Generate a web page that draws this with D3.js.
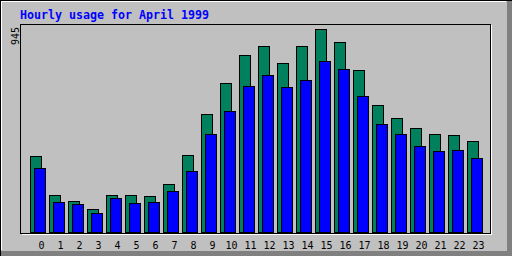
<!DOCTYPE html>
<html>
<head>
<meta charset="utf-8">
<script src="https://cdn.jsdelivr.net/npm/d3@7/dist/d3.min.js"></script>
<style>
  body { margin: 0; background: #c0c0c0; }
  svg { display: block; }
  text { font-family: "DejaVu Sans Mono", monospace; }
</style>
</head>
<body>
<div id="chart"></div>
<script>
// hourly usage, values
var hours = d3.range(24).map(String);
var hits  = [354, 172, 144, 107, 172, 172, 168, 223, 358, 549, 694, 824,
             866, 787, 866, 945, 884, 754, 591, 531, 484, 456, 452, 424];
var files = [298, 140, 130,  88, 158, 135, 140, 191, 284, 456, 563, 680,
             731, 675, 708, 796, 759, 633, 503, 456, 400, 377, 382, 344];
var maxVal = 945;
var title = "Hourly usage for April 1999";

var W = 512, H = 256;

var svg = d3.select("#chart").append("svg")
    .attr("width", W)
    .attr("height", H)
    .attr("shape-rendering", "crispEdges");

// background + outer 3d frame
svg.append("rect").attr("width", W).attr("height", H).attr("fill", "#c0c0c0");
svg.append("rect").attr("x", 0).attr("y", 0).attr("width", W).attr("height", 1).attr("fill", "#000");
svg.append("rect").attr("x", 0).attr("y", 0).attr("width", 1).attr("height", H).attr("fill", "#000");
svg.append("rect").attr("x", 1).attr("y", 1).attr("width", W - 7).attr("height", 1).attr("fill", "#fff");
svg.append("rect").attr("x", 1).attr("y", 1).attr("width", 1).attr("height", H - 7).attr("fill", "#fff");
svg.append("rect").attr("x", W - 5).attr("y", 1).attr("width", 5).attr("height", H - 1).attr("fill", "#808080");
svg.append("rect").attr("x", 1).attr("y", H - 5).attr("width", W - 1).attr("height", 5).attr("fill", "#808080");

// title
svg.append("text")
    .attr("x", 20)
    .attr("y", 19)
    .attr("fill", "#0000ff")
    .style("font-size", "12px")
    .style("font-weight", "bold")
    .attr("textLength", 189)
    .attr("lengthAdjust", "spacingAndGlyphs")
    .text(title);

// inner frame (sunken)
svg.append("path")
    .attr("d", "M21.5,234.5H491.5V25")
    .attr("fill", "none").attr("stroke", "#fff");
svg.append("rect")
    .attr("x", 20.5).attr("y", 24.5)
    .attr("width", 470).attr("height", 209)
    .attr("fill", "none").attr("stroke", "#000");

// scales
var x = d3.scaleBand()
    .domain(hours)
    .range([30, 30 + 19 * 24]);

var y = d3.scaleLinear()
    .domain([0, maxVal])
    .range([232.5, 29.5]);

// max label, rotated
svg.append("text")
    .attr("transform", "translate(19,45) rotate(-90)")
    .attr("fill", "#000")
    .style("font-size", "10px")
    .text(maxVal);

// hits bars (green)
svg.selectAll("rect.hits")
    .data(hits)
  .enter().append("rect")
    .attr("class", "hits")
    .attr("x", function(d, i) { return x(hours[i]) + 0.5; })
    .attr("y", function(d) { return Math.round(y(d) - 0.5) + 0.5; })
    .attr("width", 11)
    .attr("height", function(d) { return y(0) - (Math.round(y(d) - 0.5) + 0.5); })
    .attr("fill", "#00805c")
    .attr("stroke", "#000");

// files bars (blue)
svg.selectAll("rect.files")
    .data(files)
  .enter().append("rect")
    .attr("class", "files")
    .attr("x", function(d, i) { return x(hours[i]) + 4.5; })
    .attr("y", function(d) { return Math.round(y(d) - 0.5) + 0.5; })
    .attr("width", 11)
    .attr("height", function(d) { return y(0) - (Math.round(y(d) - 0.5) + 0.5); })
    .attr("fill", "#0000ff")
    .attr("stroke", "#000");

// hour labels
svg.selectAll("text.hour")
    .data(hours)
  .enter().append("text")
    .attr("class", "hour")
    .attr("x", function(d) { return x(d) + 11.5; })
    .attr("y", 249)
    .attr("text-anchor", "middle")
    .attr("fill", "#000")
    .style("font-size", "10px")
    .text(function(d) { return d; });
</script>
</body>
</html>
